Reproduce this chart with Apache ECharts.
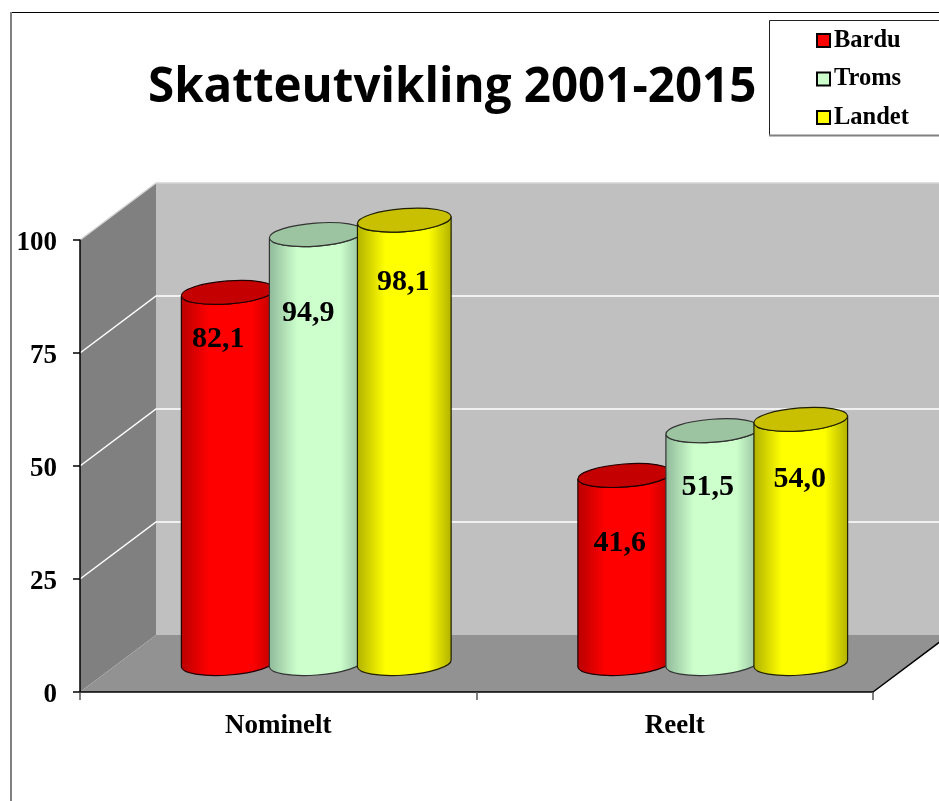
<!DOCTYPE html>
<html>
<head>
<meta charset="utf-8">
<style>
html, body { margin: 0; padding: 0; background: #fff; overflow: hidden; }
#chart { width: 939px; height: 801px; }
</style>
<script src="https://cdn.jsdelivr.net/npm/echarts@6/dist/echarts.min.js"></script>
</head>
<body>
<div id="chart"></div>
<script>
var categories = ['Nominelt', 'Reelt'];
var seriesNames = ['Bardu', 'Troms', 'Landet'];
var bardu = [82.1, 41.6];
var troms = [94.9, 51.5];
var landet = [98.1, 54.0];
var yTicks = [0, 25, 50, 75, 100];

// look of each cylinder: edge, centre and top colours
var edgeColors = ['#b80000', '#8fb899', '#b0b000'];
var midColors = ['#ff0000', '#ccffcc', '#ffff00'];
var topColors = ['#c40000', '#9dc4a0', '#c8c000'];
var outlineColors = ['#200000', '#333333', '#202000'];

// hand nudges for the value labels, [dx, dy] from the top of the cylinder
var labelNudges = [
    [[-10, 47], [-5, 68]],
    [[-8, 79], [-5, 57]],
    [[-1, 62], [-1, 60]]
];

var serif = '"Liberation Serif", "Times New Roman", serif';
var depthX = 76;
var depthY = 57;
var tilt = -4.3;

var chart = echarts.init(document.getElementById('chart'));

function renderWalls(params, api) {
    var sys = params.coordSys;
    var left = sys.x, right = sys.x + sys.width;
    var top = sys.y, bottom = sys.y + sys.height;
    var children = [
        { type: 'polygon', shape: { points: [[left + depthX, top - depthY], [right + depthX, top - depthY], [right + depthX, bottom - depthY], [left + depthX, bottom - depthY]] }, style: { fill: '#c0c0c0' } },
        { type: 'polygon', shape: { points: [[left, top], [left + depthX, top - depthY], [left + depthX, bottom - depthY], [left, bottom]] }, style: { fill: '#808080' } },
        { type: 'polygon', shape: { points: [[left, bottom], [left + depthX, bottom - depthY], [right + depthX, bottom - depthY], [right, bottom]] }, style: { fill: '#929292' } }
    ];
    yTicks.forEach(function (t) {
        if (t === 0) return;
        var y = api.coord([0, t])[1];
        var color = t === 100 ? '#d4d4d4' : '#ffffff';
        children.push({ type: 'polyline', shape: { points: [[left, y], [left + depthX, y - depthY], [right + depthX, y - depthY]] }, style: { fill: null, stroke: color, lineWidth: 1.5 } });
    });
    children.push({ type: 'line', shape: { x1: right, y1: bottom, x2: right + depthX, y2: bottom - depthY }, style: { stroke: '#000', lineWidth: 1.5 } });
    return { type: 'group', children: children };
}

function cylinderRenderer(s) {
    return function (params, api) {
        var idx = api.value(0);
        var band = api.size([1, 0])[0];
        var r = band * 0.1185;
        var ry = r * 0.245;
        var cx = api.coord([idx, 0])[0] + depthX / 2 + (s - 1) * band * 0.222;
        var y0 = api.coord([idx, 0])[1] - depthY / 2;
        var y1 = api.coord([idx, api.value(1)])[1] - depthY / 2;
        var rad = tilt * Math.PI / 180;
        var ex = r * Math.cos(rad), ey = r * Math.sin(rad);
        var arc = 'A ' + r + ' ' + ry + ' ' + tilt + ' 0 ';

        var body = 'M ' + (cx - ex) + ' ' + (y1 - ey) +
            ' L ' + (cx - ex) + ' ' + (y0 - ey) +
            ' ' + arc + '0 ' + (cx + ex) + ' ' + (y0 + ey) +
            ' L ' + (cx + ex) + ' ' + (y1 + ey) +
            ' ' + arc + '1 ' + (cx - ex) + ' ' + (y1 - ey) + ' Z';
        var lid = 'M ' + (cx - ex) + ' ' + (y1 - ey) +
            ' ' + arc + '1 ' + (cx + ex) + ' ' + (y1 + ey) +
            ' ' + arc + '1 ' + (cx - ex) + ' ' + (y1 - ey) + ' Z';

        var nudge = labelNudges[s][idx];
        return {
            type: 'group',
            children: [
                {
                    type: 'path',
                    shape: { pathData: body },
                    style: {
                        fill: {
                            type: 'linear', x: 0, y: 0, x2: 1, y2: 0,
                            colorStops: [
                                { offset: 0, color: edgeColors[s] },
                                { offset: 0.3, color: midColors[s] },
                                { offset: 0.75, color: midColors[s] },
                                { offset: 1, color: edgeColors[s] }
                            ]
                        },
                        stroke: outlineColors[s],
                        lineWidth: 1.2
                    }
                },
                {
                    type: 'path',
                    shape: { pathData: lid },
                    style: { fill: topColors[s], stroke: outlineColors[s], lineWidth: 1.2 }
                },
                {
                    type: 'text',
                    style: {
                        x: cx + nudge[0],
                        y: y1 + nudge[1],
                        text: api.value(1).toFixed(1).replace('.', ','),
                        font: 'bold 30px ' + serif,
                        fill: '#000',
                        align: 'center',
                        verticalAlign: 'middle'
                    }
                }
            ]
        };
    };
}

var values = [bardu, troms, landet];
var series = [{
    type: 'custom',
    name: 'walls',
    silent: true,
    z: 1,
    renderItem: renderWalls,
    data: [[0, 0]]
}];
seriesNames.forEach(function (name, s) {
    series.push({
        type: 'custom',
        name: name,
        z: 2 + s,
        itemStyle: { color: midColors[s], borderColor: '#000', borderWidth: 1.5 },
        renderItem: cylinderRenderer(s),
        encode: { x: 0, y: 1 },
        data: values[s].map(function (v, i) { return [i, v]; })
    });
});

chart.setOption({
    animation: false,
    backgroundColor: '#fff',
    title: {
        text: 'Skatteutvikling 2001-2015',
        left: 148,
        top: 64,
        padding: 0,
        textStyle: { fontFamily: '"Open Sans", sans-serif', fontWeight: 'bold', fontSize: 47.5, color: '#000' }
    },
    legend: {
        data: seriesNames,
        orient: 'vertical',
        left: 769,
        top: 28,
        padding: [0, 0, 0, 47],
        itemWidth: 13,
        itemHeight: 13,
        itemGap: 13.5,
        icon: 'rect',
        selectedMode: false,
        textStyle: { fontFamily: serif, fontWeight: 'bold', fontSize: 24.5, color: '#000', padding: [0, 0, 0, -1] }
    },
    grid: { left: 80, top: 240, width: 793, height: 452 },
    xAxis: {
        type: 'category',
        data: categories,
        z: 6,
        axisLine: { lineStyle: { color: '#000', width: 1.5 } },
        axisTick: { show: true, length: 8, lineStyle: { color: '#555', width: 1.5 } },
        axisLabel: { margin: 21, fontFamily: serif, fontWeight: 'bold', fontSize: 27, color: '#000' },
        splitLine: { show: false }
    },
    yAxis: {
        type: 'value',
        min: 0,
        max: 100,
        interval: 25,
        z: 6,
        axisLine: { show: true, lineStyle: { color: '#000', width: 1.5 } },
        axisTick: { show: true, length: 7, lineStyle: { color: '#000', width: 1.5 } },
        axisLabel: {
            margin: 23,
            formatter: '{v|{value}}',
            rich: { v: { padding: [6, 0, 0, 0], fontFamily: serif, fontWeight: 'bold', fontSize: 27, color: '#000' } }
        },
        splitLine: { show: false }
    },
    graphic: [
        { type: 'line', silent: true, shape: { x1: 11, y1: 12.5, x2: 939, y2: 12.5 }, style: { stroke: '#000', lineWidth: 1 } },
        { type: 'line', silent: true, shape: { x1: 11, y1: 12, x2: 11, y2: 801 }, style: { stroke: '#808080', lineWidth: 2 } },
        { type: 'polyline', silent: true, shape: { points: [[939, 20.5], [769.5, 20.5], [769.5, 135]] }, style: { fill: null, stroke: '#222', lineWidth: 1 } },
        { type: 'line', silent: true, shape: { x1: 769, y1: 135.5, x2: 939, y2: 135.5 }, style: { stroke: '#808080', lineWidth: 2 } }
    ],
    series: series
});
</script>
</body>
</html>
